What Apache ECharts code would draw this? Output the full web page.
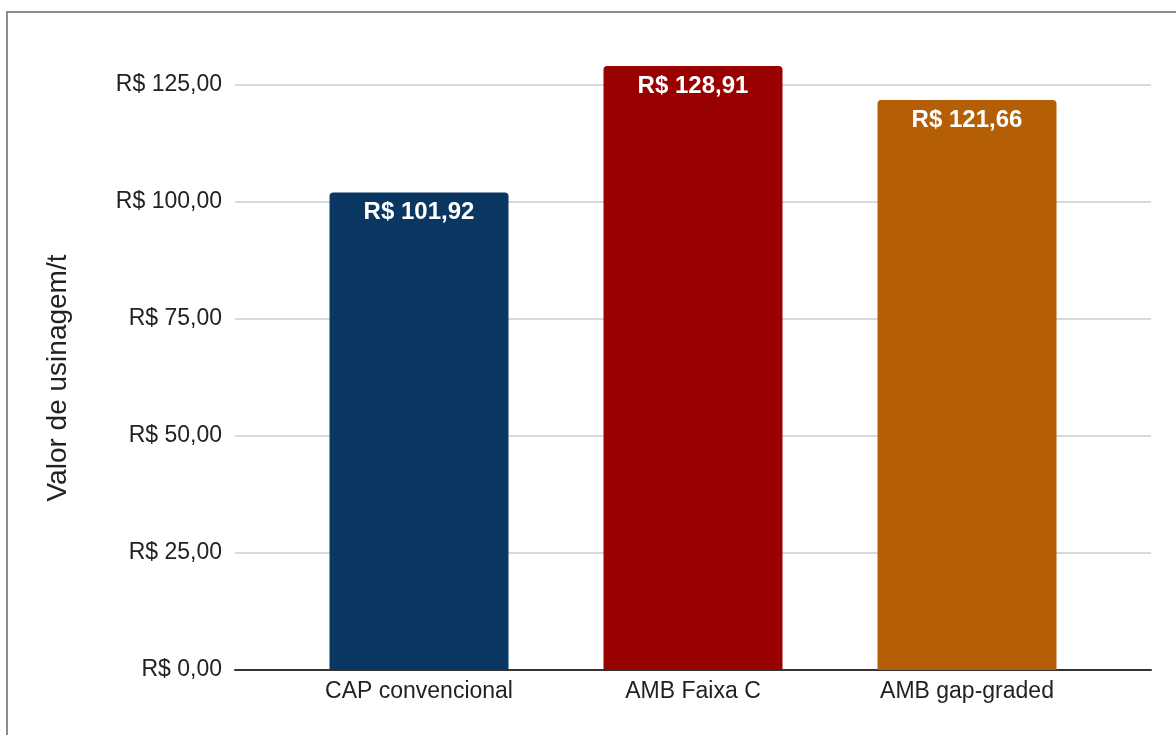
<!DOCTYPE html>
<html>
<head>
<meta charset="utf-8">
<script src="https://cdn.jsdelivr.net/npm/echarts@6/dist/echarts.min.js"></script>
<style>
html,body{margin:0;padding:0;background:#fff;}
#chart{width:1176px;height:735px;}
</style>
</head>
<body>
<div id="chart"></div>
<script>
const categories = ['CAP convencional', 'AMB Faixa C', 'AMB gap-graded'];
const values = [101.92, 128.91, 121.66];
const barColors = ['#0a3762', '#990000', '#b45f06'];
const yAxisTitle = 'Valor de usinagem/t';

const FONT = 'Arial, "Liberation Sans", sans-serif';
const fmt = v => 'R$ ' + Number(v).toFixed(2).replace('.', ',');

const chart = echarts.init(document.getElementById('chart'));
const Y_MIN = 0, Y_MAX = 130, Y_INT = 25;

chart.setOption({
  animation: false,
  backgroundColor: '#ffffff',
  graphic: [{
    type: 'rect',
    shape: { x: 7, y: 12, width: 1300, height: 1000 },
    style: { fill: 'none', stroke: '#8c8c8c', lineWidth: 2 },
    silent: true, z: 100
  }, {
    type: 'text',
    x: 58, y: 378, rotation: Math.PI / 2,
    style: { text: yAxisTitle, fill: '#222222', fontSize: 28, fontFamily: FONT,
      align: 'center', verticalAlign: 'middle' },
    silent: true
  }],
  grid: [
    { left: 235, right: 25, top: 61, bottom: 65 },
    { left: 282, right: 72, top: 61, bottom: 65 }
  ],
  xAxis: [
    {
      gridIndex: 0, type: 'category', data: categories,
      axisLine: { show: true, lineStyle: { color: '#333333', width: 2 } },
      axisTick: { show: false }, axisLabel: { show: false }, splitLine: { show: false }
    },
    {
      gridIndex: 1, type: 'category', data: categories,
      axisLine: { show: false }, axisTick: { show: false },
      axisLabel: { color: '#222222', fontSize: 23, fontFamily: FONT, margin: 10 }
    }
  ],
  yAxis: [
    {
      gridIndex: 0, type: 'value', min: Y_MIN, max: Y_MAX, interval: Y_INT,
      axisLine: { show: false }, axisTick: { show: false },
      axisLabel: { color: '#222222', fontSize: 23, fontFamily: FONT, margin: 13,
        formatter: fmt, showMaxLabel: false },
      splitLine: { show: true, showMaxLine: false, lineStyle: { color: '#cccccc', width: 1.5 } }
    },
    {
      gridIndex: 1, type: 'value', min: Y_MIN, max: Y_MAX, interval: Y_INT,
      axisLine: { show: false }, axisTick: { show: false }, axisLabel: { show: false },
      splitLine: { show: false }
    }
  ],
  series: [{
    type: 'bar',
    xAxisIndex: 1, yAxisIndex: 1,
    barWidth: 179,
    data: values.map((v, i) => ({ value: v, itemStyle: { color: barColors[i] } })),
    itemStyle: { borderRadius: [4, 4, 0, 0] },
    label: {
      show: true, position: 'insideTop', distance: 8,
      color: '#ffffff', fontSize: 24, fontWeight: 'bold', fontFamily: FONT,
      formatter: p => fmt(p.value)
    }
  }]
});
</script>
</body>
</html>
